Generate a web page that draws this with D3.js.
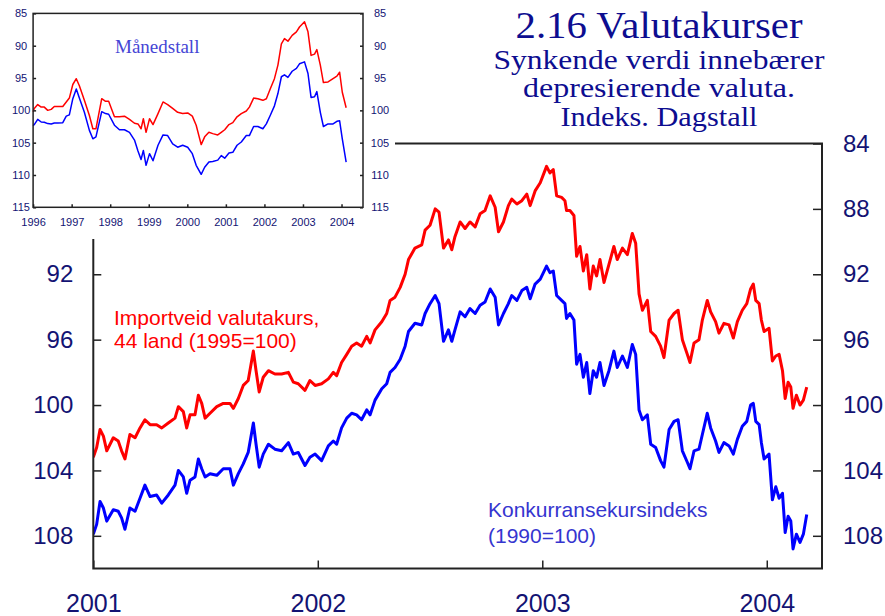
<!DOCTYPE html>
<html>
<head>
<meta charset="utf-8">
<script src="https://cdn.jsdelivr.net/npm/d3@7"></script>
<style>
  body { margin: 0; background: #fff; }
  svg { display: block; }
</style>
</head>
<body>
<div id="chart"></div>
<script>
// Dagstall (sampled), time as decimal year
var dayT = [
  2001.000, 2001.015, 2001.030, 2001.045, 2001.060, 2001.089, 2001.111, 2001.126, 2001.141, 2001.163,
  2001.186, 2001.208, 2001.230, 2001.253, 2001.282, 2001.305, 2001.334, 2001.364, 2001.379, 2001.401,
  2001.416, 2001.431, 2001.453, 2001.468, 2001.483, 2001.498, 2001.520, 2001.550, 2001.579, 2001.609,
  2001.624, 2001.646, 2001.668, 2001.690, 2001.713, 2001.725, 2001.739, 2001.757, 2001.780, 2001.809,
  2001.839, 2001.869, 2001.891, 2001.913, 2001.943, 2001.965, 2001.988, 2002.017, 2002.047, 2002.069,
  2002.084, 2002.106, 2002.129, 2002.151, 2002.173, 2002.195, 2002.218, 2002.233, 2002.255, 2002.285,
  2002.307, 2002.322, 2002.344, 2002.367, 2002.389, 2002.404, 2002.433, 2002.463, 2002.478, 2002.500,
  2002.523, 2002.540, 2002.560, 2002.582, 2002.597, 2002.611, 2002.634, 2002.656, 2002.678, 2002.701,
  2002.723, 2002.745, 2002.768, 2002.790, 2002.805, 2002.827, 2002.849, 2002.864, 2002.887, 2002.909,
  2002.931, 2002.946, 2002.968, 2002.991, 2003.019, 2003.034, 2003.049, 2003.064, 2003.086, 2003.101,
  2003.108, 2003.123, 2003.141, 2003.153, 2003.168, 2003.183, 2003.198, 2003.212, 2003.227, 2003.242,
  2003.257, 2003.275, 2003.297, 2003.319, 2003.334, 2003.357, 2003.379, 2003.401, 2003.416, 2003.431,
  2003.446, 2003.468, 2003.483, 2003.505, 2003.527, 2003.542, 2003.565, 2003.587, 2003.605, 2003.624,
  2003.646, 2003.658, 2003.676, 2003.698, 2003.713, 2003.735, 2003.750, 2003.772, 2003.787, 2003.809,
  2003.832, 2003.851, 2003.869, 2003.891, 2003.911, 2003.928, 2003.940, 2003.951, 2003.966, 2003.976,
  2003.988, 2004.010, 2004.025, 2004.040, 2004.055, 2004.070, 2004.082, 2004.095, 2004.107, 2004.117,
  2004.132, 2004.148, 2004.163, 2004.178
];
// Importveid valutakurs, 44 land (1995=100)
var dayImport = [
  103.2, 102.6, 101.5, 101.9, 102.8, 102.0, 102.2, 102.8, 103.3, 101.8,
  102.0, 101.4, 100.9, 101.2, 101.2, 101.4, 101.1, 100.8, 100.1, 100.4,
  101.4, 100.6, 100.6, 99.4, 99.9, 100.8, 100.5, 100.1, 99.9, 99.9,
  100.2, 99.6, 98.8, 98.5, 96.7, 97.9, 99.2, 98.3, 97.9, 98.1,
  98.1, 98.0, 98.6, 98.7, 99.1, 98.5, 98.8, 98.7, 98.4, 98.0,
  98.2, 97.4, 96.9, 96.4, 96.2, 96.4, 95.8, 96.2, 95.4, 94.9,
  94.4, 93.6, 93.4, 92.8, 92.0, 91.1, 90.4, 90.2, 89.3, 89.0,
  88.0, 88.2, 90.4, 89.9, 90.5, 89.7, 88.8, 89.2, 88.8, 89.1,
  88.3, 88.1, 87.2, 87.9, 89.4, 88.8, 87.8, 87.4, 87.7, 87.5,
  87.1, 87.8, 86.9, 86.4, 85.4, 85.8, 85.6, 87.2, 87.3, 87.5,
  88.1, 88.1, 88.4, 90.9, 90.3, 91.8, 90.8, 92.9, 91.5, 92.1,
  91.1, 92.5, 91.4, 90.3, 91.1, 90.4, 90.8, 89.5, 90.1, 93.2,
  94.2, 93.6, 95.5, 95.8, 96.4, 97.1, 94.8, 94.4, 94.2, 96.0,
  96.9, 97.4, 96.2, 96.0, 94.8, 93.6, 94.3, 94.9, 95.6, 95.0,
  95.1, 95.9, 94.9, 94.2, 93.8, 92.9, 92.6, 93.6, 93.8, 94.8,
  95.5, 95.3, 97.3, 97.0, 96.9, 97.9, 99.6, 98.6, 98.9, 100.2,
  99.4, 100.0, 99.7, 98.9
];
// Konkurransekursindeks (1990=100)
var dayKonk = [
  107.9, 107.3, 105.9, 106.3, 107.1, 106.4, 106.5, 106.9, 107.6, 106.3,
  106.5, 105.7, 104.9, 105.6, 105.5, 106.0, 105.5, 104.9, 104.0, 104.4,
  105.4, 104.6, 104.4, 103.3, 103.9, 104.4, 104.2, 104.3, 103.9, 103.9,
  104.9, 104.2, 103.6, 102.9, 101.1, 102.4, 103.8, 103.0, 102.4, 102.7,
  102.8, 102.3, 103.0, 102.9, 103.7, 103.2, 103.0, 103.4, 102.5, 102.2,
  102.4, 101.4, 100.8, 100.5, 100.6, 100.9, 100.3, 100.6, 99.7, 99.0,
  98.7, 98.0, 97.7, 97.2, 96.4, 95.5, 95.0, 95.1, 94.4, 93.8,
  93.3, 93.8, 96.1, 95.4, 96.1, 95.4, 94.3, 94.6, 94.1, 94.4,
  93.9, 93.7, 92.9, 93.4, 95.1, 94.4, 93.8, 93.3, 93.6, 93.0,
  92.8, 93.5, 92.6, 92.3, 91.5, 91.9, 91.8, 93.3, 93.6, 93.8,
  94.7, 94.4, 94.8, 97.5, 96.9, 98.3, 97.4, 99.3, 97.9, 98.3,
  97.4, 98.8, 97.9, 96.7, 97.7, 97.0, 97.7, 96.3, 96.9, 100.3,
  100.9, 100.6, 102.4, 102.6, 103.4, 103.8, 101.5, 101.0, 100.9, 102.8,
  103.5, 103.9, 102.8, 102.7, 101.8, 100.5, 101.4, 102.2, 102.9, 102.3,
  102.5, 103.0, 102.1, 101.3, 101.0, 100.0, 99.9, 101.0, 101.2, 102.3,
  103.3, 103.0, 105.8, 105.0, 105.7, 105.4, 107.8, 106.8, 107.1, 108.8,
  107.9, 108.4, 107.9, 106.7
];

// Månedstall (inset), time as decimal year
var monthT = [
  1996.00, 1996.03, 1996.12, 1996.21, 1996.29, 1996.38, 1996.47, 1996.55, 1996.64, 1996.77,
  1996.86, 1996.94, 1997.03, 1997.12, 1997.20, 1997.33, 1997.46, 1997.55, 1997.63, 1997.78,
  1997.88, 1997.96, 1998.11, 1998.24, 1998.37, 1998.50, 1998.63, 1998.72, 1998.80, 1998.86,
  1998.93, 1999.02, 1999.11, 1999.24, 1999.37, 1999.49, 1999.62, 1999.75, 1999.88, 2000.01,
  2000.13, 2000.23, 2000.36, 2000.45, 2000.56, 2000.66, 2000.79, 2000.88, 2000.97, 2001.08,
  2001.18, 2001.29, 2001.40, 2001.53, 2001.61, 2001.72, 2001.83, 2001.96, 2002.05, 2002.15,
  2002.26, 2002.35, 2002.44, 2002.52, 2002.61, 2002.72, 2002.83, 2002.91, 2003.04, 2003.13,
  2003.21, 2003.30, 2003.36, 2003.45, 2003.53, 2003.65, 2003.78, 2003.88, 2003.95, 2004.02,
  2004.12
];
var monthImport = [
  100.2, 99.7, 99.1, 99.5, 99.5, 100.0, 99.85, 99.4, 99.4, 99.4,
  98.7, 98.1, 96.0, 95.1, 96.2, 98.45, 100.8, 102.85, 102.85, 98.2,
  98.6, 98.6, 101.0, 101.0, 100.9, 101.4, 102.0, 102.1, 102.85, 101.3,
  103.4, 101.3, 102.2, 100.5, 98.7, 99.1, 99.7, 100.3, 100.5, 100.4,
  100.9, 102.3, 105.3, 104.1, 103.4, 103.6, 103.8, 103.4, 103.0, 102.2,
  101.9, 101.0, 100.5, 100.1, 99.5, 98.1, 98.2, 98.45, 98.2, 96.7,
  95.1, 93.0, 89.7, 88.9, 89.3, 88.4, 87.85, 87.1, 86.3, 87.85,
  91.5, 91.3, 90.6, 93.0, 95.7, 95.6, 95.1, 94.7, 94.1, 97.2,
  99.6
];
var monthKonk = [
  102.4, 102.2, 101.4, 101.8, 101.85, 102.05, 102.1, 101.95, 101.95, 101.9,
  100.9, 100.7, 98.2, 96.7, 98.1, 100.3, 103.1, 104.4, 104.1, 100.2,
  100.5, 100.6, 102.3, 103.0, 103.0, 103.4, 104.6, 106.3, 107.6, 106.2,
  108.5, 106.7, 107.8, 105.4, 103.8, 103.9, 105.2, 105.7, 105.4, 105.7,
  106.7, 108.5, 109.9, 108.8, 108.0, 107.9, 107.7, 107.0, 107.4, 106.6,
  106.5, 105.4, 104.9, 103.9, 103.9, 102.5, 102.5, 102.85, 102.1, 100.8,
  99.3, 97.4, 94.8, 94.5, 94.9, 93.95, 93.5, 92.8, 92.5, 94.3,
  98.0, 97.9, 97.1, 100.3, 102.5, 102.1, 102.1, 101.7, 101.6, 104.4,
  108.0
];

var mainTicksY = [84, 88, 92, 96, 100, 104, 108];
var mainTicksLeft = [92, 96, 100, 104, 108];   // 84 and 88 sit under the inset
var mainYears = [2001, 2002, 2003, 2004];
var insetTicksY = [85, 90, 95, 100, 105, 110, 115];
var insetYears = [1996, 1997, 1998, 1999, 2000, 2001, 2002, 2003, 2004];

var width = 885, height = 616;
var navy = "#131373";
var sans = "Liberation Sans, Arial, sans-serif";
var serif = "Liberation Serif, Times New Roman, serif";

var svg = d3.select("#chart").append("svg")
    .attr("width", width)
    .attr("height", height);

// ---- main chart ----
var x = d3.scaleLinear().domain([2001, 2004.246]).range([93.3, 822]);
var y = d3.scaleLinear().domain([84, 110]).range([143.5, 568.5]);

svg.append("defs").append("clipPath").attr("id", "mainclip")
  .append("rect")
    .attr("x", x.range()[0]).attr("y", y.range()[0])
    .attr("width", x.range()[1] - x.range()[0])
    .attr("height", y.range()[1] - y.range()[0]);

var line = d3.line()
    .x(function(d) { return x(d[0]); })
    .y(function(d) { return y(d[1]); });

var plot = svg.append("g").attr("clip-path", "url(#mainclip)");

plot.append("path")
    .datum(d3.zip(dayT, dayImport))
    .attr("fill", "none")
    .attr("stroke", "#ff0000")
    .attr("stroke-width", 3)
    .attr("stroke-linejoin", "round")
    .attr("d", line);

plot.append("path")
    .datum(d3.zip(dayT, dayKonk))
    .attr("fill", "none")
    .attr("stroke", "#0000ff")
    .attr("stroke-width", 3)
    .attr("stroke-linejoin", "round")
    .attr("d", line);

function styleAxis(g, size, family) {
  g.select(".domain").remove();
  g.selectAll(".tick line").attr("stroke", "#222").attr("stroke-width", 1.5);
  g.selectAll(".tick text").attr("fill", navy)
      .attr("font-size", size).attr("font-family", family);
}

svg.append("g")
    .attr("transform", "translate(" + x.range()[0] + ",0)")
    .call(d3.axisLeft(y).tickValues(mainTicksLeft).tickSizeInner(-8).tickSizeOuter(0)
      .tickPadding(20).tickFormat(d3.format("d")))
    .call(styleAxis, 24, sans);

svg.append("g")
    .attr("transform", "translate(" + x.range()[1] + ",0)")
    .call(d3.axisRight(y).tickValues(mainTicksY).tickSizeInner(-9).tickSizeOuter(0)
      .tickPadding(21).tickFormat(d3.format("d")))
    .call(styleAxis, 24, sans);

svg.append("g")
    .attr("transform", "translate(0," + y.range()[1] + ")")
    .call(d3.axisBottom(x).tickValues(mainYears).tickSizeInner(-8).tickSizeOuter(0)
      .tickPadding(26).tickFormat(d3.format("d")))
    .call(styleAxis, 25, sans);

// frame
svg.append("rect")
    .attr("x", x.range()[0]).attr("y", y.range()[0])
    .attr("width", x.range()[1] - x.range()[0])
    .attr("height", y.range()[1] - y.range()[0])
    .attr("fill", "none")
    .attr("stroke", "#222")
    .attr("stroke-width", 2);

// series labels
var lab1 = svg.append("text")
    .attr("font-family", sans).attr("font-size", 21).attr("fill", "#ff0000");
lab1.append("tspan").attr("x", 114).attr("y", 325).text("Importveid valutakurs,");
lab1.append("tspan").attr("x", 114).attr("y", 348).text("44 land (1995=100)");

var lab2 = svg.append("text")
    .attr("font-family", sans).attr("font-size", 21).attr("fill", "#3535cf");
lab2.append("tspan").attr("x", 488).attr("y", 517).text("Konkurransekursindeks");
lab2.append("tspan").attr("x", 488).attr("y", 543).text("(1990=100)");

// title (serif face is narrower than the original, so stretch to its widths)
var titleLines = [
  { text: "2.16 Valutakurser", y: 37.5, size: 37, w: 287 },
  { text: "Synkende verdi innebærer", y: 68.5, size: 28, w: 331 },
  { text: "depresierende valuta.", y: 97, size: 28, w: 272 },
  { text: "Indeks. Dagstall", y: 126, size: 28, w: 197 }
];
svg.append("g")
    .attr("font-family", serif).attr("fill", "#0d0d90").attr("text-anchor", "middle")
  .selectAll("text")
  .data(titleLines)
  .enter().append("text")
    .attr("x", 659)
    .attr("y", function(d) { return d.y; })
    .attr("font-size", function(d) { return d.size; })
    .attr("textLength", function(d) { return d.w; })
    .attr("lengthAdjust", "spacingAndGlyphs")
    .text(function(d) { return d.text; });

// ---- inset (Månedstall) ----
svg.append("rect")
    .attr("x", 0).attr("y", 0)
    .attr("width", 395).attr("height", 239)
    .attr("fill", "#fff");

var ix = d3.scaleLinear().domain([1996, 2004.557]).range([33.1, 363]);
var iy = d3.scaleLinear().domain([85, 115]).range([13.4, 207.3]);

var iline = d3.line()
    .x(function(d) { return ix(d[0]); })
    .y(function(d) { return iy(d[1]); });

svg.append("path")
    .datum(d3.zip(monthT, monthImport))
    .attr("fill", "none")
    .attr("stroke", "#ff0000")
    .attr("stroke-width", 1.5)
    .attr("stroke-linejoin", "round")
    .attr("d", iline);

svg.append("path")
    .datum(d3.zip(monthT, monthKonk))
    .attr("fill", "none")
    .attr("stroke", "#0000ff")
    .attr("stroke-width", 1.5)
    .attr("stroke-linejoin", "round")
    .attr("d", iline);

svg.append("g")
    .attr("transform", "translate(" + ix.range()[0] + ",0)")
    .call(d3.axisLeft(iy).tickValues(insetTicksY).tickSizeInner(-3).tickSizeOuter(0)
      .tickPadding(12).tickFormat(d3.format("d")))
    .call(styleAxis, 11, sans)
    .call(function(g) { g.selectAll(".tick text").attr("text-anchor", "middle"); });

svg.append("g")
    .attr("transform", "translate(" + ix.range()[1] + ",0)")
    .call(d3.axisRight(iy).tickValues(insetTicksY).tickSizeInner(-3).tickSizeOuter(0)
      .tickPadding(17).tickFormat(d3.format("d")))
    .call(styleAxis, 11, sans)
    .call(function(g) { g.selectAll(".tick text").attr("text-anchor", "middle"); });

svg.append("g")
    .attr("transform", "translate(0," + iy.range()[1] + ")")
    .call(d3.axisBottom(ix).tickValues(insetYears).tickSizeInner(-3).tickSizeOuter(0)
      .tickPadding(11).tickFormat(d3.format("d")))
    .call(styleAxis, 11, sans);

svg.append("rect")
    .attr("x", ix.range()[0]).attr("y", iy.range()[0])
    .attr("width", ix.range()[1] - ix.range()[0])
    .attr("height", iy.range()[1] - iy.range()[0])
    .attr("fill", "none")
    .attr("stroke", "#222")
    .attr("stroke-width", 1.5);

svg.append("text")
    .attr("x", 115).attr("y", 52.5)
    .attr("font-family", serif).attr("font-size", 19)
    .attr("fill", "#4545d5")
    .text("Månedstall");
</script>
</body>
</html>
